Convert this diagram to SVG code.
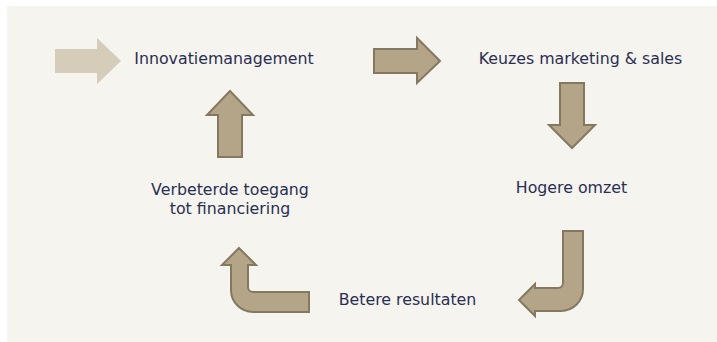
<svg xmlns="http://www.w3.org/2000/svg" width="717" height="342" viewBox="0 0 717 342">
<style>
.bg{fill:#f5f4ef}
.arr{fill:#b4a589;stroke:#857860;stroke-width:2;stroke-linejoin:miter}
.faded{fill:#d6ccba}
.lbl{font-family:"DejaVu Sans",Verdana,sans-serif;font-size:15.8px;fill:#2a2e52;text-anchor:middle}
</style>
<rect x="0" y="0" width="717" height="342" fill="#ffffff"/>
<rect class="bg" x="7" y="6" width="710" height="336"/>
<g id="connectors">
<path class="faded" d="M55,49 H97 V38 L121,61 L97,84 V73 H55 Z"/>
<path class="arr" d="M374,49 H417 V38 L440,61 L417,83 V73 H374 Z"/>
<path class="arr" d="M560,83 H584 V125 H595 L572,148 L549,125 H560 Z"/>
<path class="arr" d="M563,231 H583 V289 A22,22 0 0 1 561,311 H535 V316 L519,300 L535,284 V288 H558 A5,5 0 0 0 563,283 Z"/>
<path class="arr" d="M239,248 L256,265 H248 V287 A5,5 0 0 0 253,292 H309 V312 H253 A22,22 0 0 1 231,290 V265 H222 Z"/>
<path class="arr" d="M218,157 V115 H207 L230,91 L253,115 H242 V157 Z"/>
</g>
<g id="innovatiemanagement"><text class="lbl" x="224" y="64">Innovatiemanagement</text></g>
<g id="keuzes"><text class="lbl" x="580.5" y="64">Keuzes marketing &amp; sales</text></g>
<g id="hogere-omzet"><text class="lbl" x="571.5" y="193">Hogere omzet</text></g>
<g id="betere-resultaten"><text class="lbl" x="407.5" y="305">Betere resultaten</text></g>
<g id="verbeterde-toegang"><text class="lbl" x="230" y="195">Verbeterde toegang</text><text class="lbl" x="230" y="214">tot financiering</text></g>
</svg>
